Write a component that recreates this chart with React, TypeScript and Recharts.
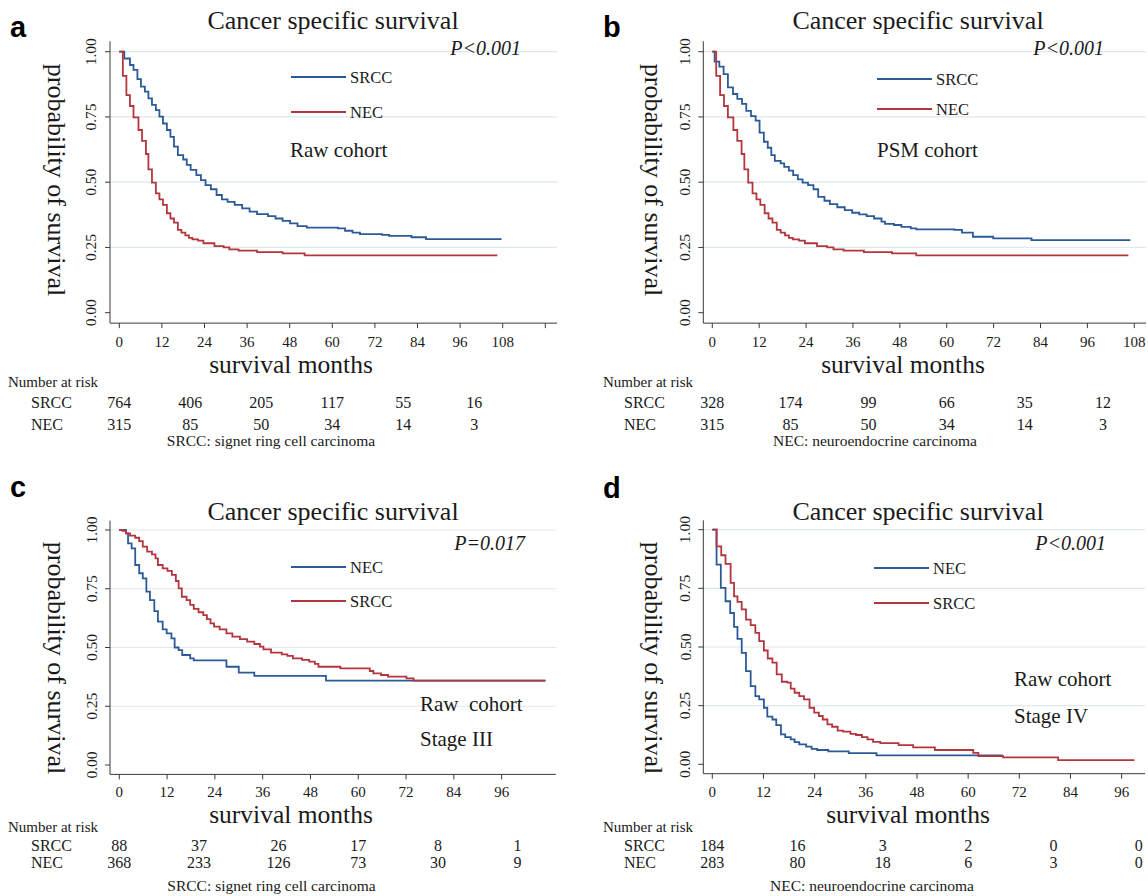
import React from "react";
import { LineChart, Line, XAxis, YAxis, ReferenceLine, Legend } from "recharts";

const BLUE = "#2c5a98";
const RED = "#b3363e";
const GRID = "#dfe8ec";
const AXIS = "#3a3a3a";
const TEXT = "#1a1a1a";
const SERIF = '"Liberation Serif", "Times New Roman", serif';
const SANS = '"Liberation Sans", Arial, sans-serif';

// ---------- survival curves (time in months, survival probability) ----------
const aSrccT = [0, 1.4, 3, 4, 5.1, 6.1, 7.2, 8.2, 9.2, 10.3, 11.3, 12.3, 13.4, 14.4, 15.4, 16.5, 18, 19, 20.1, 21.7, 23, 24.3, 25.8, 27.4, 28.9, 30.5, 32.5, 34.6, 36.7, 38.8, 41.9, 44, 46, 48.1, 50.2, 52.8, 61.6, 63.6, 65.7, 67.8, 74, 76, 82.3, 86.4, 107.7];
const aSrccS = [1, 0.974, 0.949, 0.93, 0.895, 0.866, 0.847, 0.821, 0.796, 0.776, 0.751, 0.725, 0.7, 0.674, 0.636, 0.604, 0.587, 0.566, 0.547, 0.527, 0.508, 0.489, 0.473, 0.451, 0.434, 0.425, 0.413, 0.4, 0.387, 0.378, 0.37, 0.361, 0.352, 0.342, 0.332, 0.326, 0.323, 0.314, 0.307, 0.301, 0.298, 0.294, 0.289, 0.282, 0.282];

const necT = [0, 1, 2, 3, 4, 5.4, 6.4, 7.5, 8.2, 9.2, 10.3, 11.3, 12.3, 13.4, 14.4, 15.4, 16.5, 17.5, 18.6, 19.6, 20.6, 22.2, 23.7, 26.8, 29.4, 31, 33.6, 38.8, 46, 52.2, 106.5];
const necS = [1, 0.907, 0.834, 0.792, 0.748, 0.7, 0.658, 0.608, 0.549, 0.498, 0.457, 0.434, 0.413, 0.381, 0.361, 0.345, 0.317, 0.307, 0.296, 0.287, 0.281, 0.276, 0.266, 0.255, 0.25, 0.243, 0.238, 0.232, 0.227, 0.22, 0.22];

const bSrccT = [0, 0.6, 1.8, 2.9, 4, 5.3, 6.4, 7.6, 8.7, 9.9, 11.1, 12.1, 13.2, 14.2, 15.1, 16, 17.5, 18.4, 19.6, 20.7, 21.9, 23.1, 24.5, 25.9, 27.1, 28.7, 30.1, 32, 33.9, 35.8, 37.6, 39.5, 41.4, 43.3, 44.2, 46.5, 48.4, 50.8, 52.2, 62, 63.9, 66.7, 71.9, 81.7, 107];
const bSrccS = [1, 0.962, 0.943, 0.914, 0.863, 0.838, 0.819, 0.8, 0.773, 0.753, 0.736, 0.69, 0.655, 0.632, 0.604, 0.582, 0.572, 0.559, 0.544, 0.527, 0.511, 0.498, 0.489, 0.473, 0.444, 0.429, 0.416, 0.404, 0.393, 0.383, 0.377, 0.37, 0.361, 0.349, 0.34, 0.336, 0.329, 0.323, 0.319, 0.317, 0.307, 0.291, 0.285, 0.278, 0.278];

const cNecT = [0, 1.7, 2.2, 3.1, 4, 5, 5.9, 6.8, 7.7, 8.8, 9.7, 10.9, 11.9, 13.1, 13.9, 14.9, 15.8, 17.8, 18.7, 26.9, 30, 33.9, 51.9, 107];
const cNecS = [1, 0.986, 0.943, 0.922, 0.851, 0.816, 0.794, 0.738, 0.702, 0.655, 0.61, 0.577, 0.56, 0.539, 0.5, 0.489, 0.468, 0.454, 0.445, 0.418, 0.393, 0.379, 0.359, 0.359];

const cSrccT = [0, 0.8, 1.7, 2.7, 4, 5, 5.9, 7, 8.2, 9.1, 9.7, 10.9, 12.1, 13.2, 14.2, 14.9, 15.7, 16.9, 17.8, 18.7, 19.9, 21.1, 22, 22.9, 23.8, 25.2, 26.9, 28.4, 30.3, 32.1, 33.9, 35.3, 36.2, 38.1, 40.8, 42.2, 43.6, 45.9, 47.7, 49.1, 50, 55.5, 62.9, 63.8, 65.7, 67.5, 72.1, 73.9, 107];
const cSrccS = [1, 0.996, 0.986, 0.976, 0.967, 0.953, 0.929, 0.908, 0.896, 0.879, 0.851, 0.837, 0.826, 0.809, 0.783, 0.752, 0.716, 0.702, 0.681, 0.664, 0.65, 0.638, 0.621, 0.603, 0.589, 0.577, 0.56, 0.546, 0.536, 0.525, 0.515, 0.504, 0.492, 0.478, 0.471, 0.464, 0.454, 0.447, 0.44, 0.43, 0.418, 0.411, 0.4, 0.39, 0.383, 0.376, 0.369, 0.359, 0.359];

const dNecT = [0, 1, 2, 3.1, 4.2, 5.1, 5.9, 6.9, 7.9, 9, 10.1, 11, 12.1, 12.9, 14.1, 15, 16.1, 17.1, 18.4, 19.3, 20.4, 22, 23.3, 24.6, 27.2, 32, 38.5, 68.1];
const dNecS = [1, 0.851, 0.752, 0.695, 0.645, 0.586, 0.535, 0.475, 0.397, 0.333, 0.291, 0.277, 0.241, 0.203, 0.191, 0.167, 0.128, 0.116, 0.106, 0.095, 0.085, 0.075, 0.066, 0.061, 0.055, 0.048, 0.038, 0.038];

const dSrccT = [0, 1, 2.1, 3.1, 4.3, 5.1, 5.9, 6.9, 7.9, 9, 10.1, 11, 12.1, 13, 14.1, 15.1, 16.3, 17.6, 18.4, 19.3, 20.4, 21.5, 22.8, 23.9, 25, 25.9, 27, 28.1, 29.4, 30.7, 32.4, 33.7, 35.1, 36.4, 37.7, 39.4, 43.7, 47.1, 52.2, 61.2, 62.4, 68.2, 81.1, 99];
const dSrccS = [1, 0.929, 0.891, 0.854, 0.773, 0.716, 0.692, 0.66, 0.617, 0.593, 0.56, 0.525, 0.485, 0.451, 0.433, 0.383, 0.352, 0.348, 0.323, 0.305, 0.291, 0.277, 0.241, 0.22, 0.206, 0.191, 0.17, 0.16, 0.144, 0.139, 0.13, 0.125, 0.116, 0.106, 0.096, 0.09, 0.082, 0.072, 0.061, 0.049, 0.035, 0.03, 0.018, 0.018];

// ---------- number at risk ----------
const riskTimes = [0, 20, 40, 60, 80, 100];
const aRiskSrcc = [764, 406, 205, 117, 55, 16];
const aRiskNec = [315, 85, 50, 34, 14, 3];
const bRiskSrcc = [328, 174, 99, 66, 35, 12];
const bRiskNec = [315, 85, 50, 34, 14, 3];
const cRiskSrcc = [88, 37, 26, 17, 8, 1];
const cRiskNec = [368, 233, 126, 73, 30, 9];
const dRiskSrcc = [184, 16, 3, 2, 0, 0];
const dRiskNec = [283, 80, 18, 6, 3, 0];

// ---------- ticks ----------
const yTicks = [0, 0.25, 0.5, 0.75, 1];
const yTickLabels = ["0.00", "0.25", "0.50", "0.75", "1.00"];
const gridValues = [0.25, 0.5, 0.75, 1];
const xTicksA = [0, 12, 24, 36, 48, 60, 72, 84, 96, 108, 120];
const xTickLabelsA = ["0", "12", "24", "36", "48", "60", "72", "84", "96", "108", ""];
const xTicksB = [0, 12, 24, 36, 48, 60, 72, 84, 96, 108];
const xTickLabelsB = ["0", "12", "24", "36", "48", "60", "72", "84", "96", "108"];
const xTicksCD = [0, 12, 24, 36, 48, 60, 72, 84, 96];
const xTickLabelsCD = ["0", "12", "24", "36", "48", "60", "72", "84", "96"];

const zip = (t: number[], s: number[]) => t.map((v, i) => ({ t: v, s: s[i] }));

// ---------- custom renderers ----------
const XTick = (props: any) => {
  const { x, payload, ticks, labels, baseline } = props;
  const idx = ticks.indexOf(payload.value);
  const lab = idx >= 0 ? labels[idx] : "";
  return (
    <text x={x} y={baseline} textAnchor="middle" fontFamily={SERIF} fontSize={15} fill={TEXT}>
      {lab}
    </text>
  );
};

const YTick = (props: any) => {
  const { y, payload, labelX } = props;
  const idx = yTicks.indexOf(payload.value);
  return (
    <text
      x={labelX}
      y={y}
      textAnchor="middle"
      dominantBaseline="central"
      transform={`rotate(-90 ${labelX} ${y})`}
      fontFamily={SERIF}
      fontSize={15.5}
      fill={TEXT}
    >
      {yTickLabels[idx]}
    </text>
  );
};

const RiskTick = (props: any) => {
  const { x, index, rows, ys } = props;
  return (
    <g>
      {rows.map((r: number[], i: number) => (
        <text key={i} x={x} y={ys[i]} textAnchor="middle" fontFamily={SERIF} fontSize={16} fill={TEXT}>
          {String(r[index])}
        </text>
      ))}
    </g>
  );
};

const XTitle = (props: any) => (
  <text x={props.cx} y={props.baseline} textAnchor="middle" fontFamily={SERIF} fontSize={25.5} fill={TEXT}>
    survival months
  </text>
);

const YTitle = (props: any) => (
  <text
    x={props.cx}
    y={props.cy}
    textAnchor="middle"
    dominantBaseline="central"
    transform={`rotate(90 ${props.cx} ${props.cy})`}
    fontFamily={SERIF}
    fontSize={26}
    fill={TEXT}
  >
    probability of survival
  </text>
);

const LegendBox = (props: any) => {
  const { payload, gap, order } = props;
  const items = [...(payload || [])].sort(
    (a: any, b: any) => order.indexOf(a.value) - order.indexOf(b.value)
  );
  return (
    <svg width={140} height={gap + 24} style={{ display: "block", overflow: "visible" }}>
      {items.map((e: any, i: number) => (
        <g key={e.value}>
          <line x1={2} x2={57} y1={12 + i * gap} y2={12 + i * gap} stroke={e.color} strokeWidth={1.8} />
          <text x={61} y={12 + i * gap} dominantBaseline="central" fontFamily={SERIF} fontSize={16.5} fill={TEXT}>
            {e.value}
          </text>
        </g>
      ))}
    </svg>
  );
};

type PanelCfg = any;

const panels: PanelCfg[] = [
  {
    left: 0, top: 0, letter: "a", letterX: 10, letterY: 36.5,
    titleX: 333, titleY: 28.5,
    yW: 110, mTop: 41.26, bottom: 124.86, mRight: 17, xDomain: [-2.62, 123.3],
    xTicks: xTicksA, xTickLabels: xTickLabelsA, xTickBase: 347, xTitleX: 291, xTitleY: 373,
    yTickX: 91, yTitleX: 56, yTitleY: 180,
    series: [
      { name: "SRCC", color: BLUE, data: zip(aSrccT, aSrccS) },
      { name: "NEC", color: RED, data: zip(necT, necS) },
    ],
    legendOrder: ["SRCC", "NEC"], legendX: 291, legendY: 77, legendGap: 35,
    pText: "P<0.001", pX: 521, pY: 55,
    notes: [{ text: "Raw cohort", x: 290, y: 157 }],
    narX: 8, narY: 387, rowX: 31, rowY: [408, 430], rows: [aRiskSrcc, aRiskNec],
    foot: "SRCC: signet ring cell carcinoma", footX: 271, footY: 446,
  },
  {
    left: 574, top: 0, letter: "b", letterX: 29, letterY: 36.5,
    titleX: 344, titleY: 28.5,
    yW: 129.3, mTop: 41.26, bottom: 124.86, mRight: 2, xDomain: [-2.3, 111],
    xTicks: xTicksB, xTickLabels: xTickLabelsB, xTickBase: 347, xTitleX: 329, xTitleY: 373,
    yTickX: 111, yTitleX: 79, yTitleY: 180,
    series: [
      { name: "SRCC", color: BLUE, data: zip(bSrccT, bSrccS) },
      { name: "NEC", color: RED, data: zip(necT, necS) },
    ],
    legendOrder: ["SRCC", "NEC"], legendX: 303, legendY: 79, legendGap: 30,
    pText: "P<0.001", pX: 530, pY: 55,
    notes: [{ text: "PSM cohort", x: 303, y: 157 }],
    narX: 29, narY: 387, rowX: 50, rowY: [408, 430], rows: [bRiskSrcc, bRiskNec],
    foot: "NEC: neuroendocrine carcinoma", footX: 301, footY: 446,
  },
  {
    left: 0, top: 448, letter: "c", letterX: 10, letterY: 49,
    titleX: 333, titleY: 72,
    yW: 110, mTop: 72.6, bottom: 121.6, mRight: 18.2, xDomain: [-2.33, 109.6],
    xTicks: xTicksCD, xTickLabels: xTickLabelsCD, xTickBase: 349, xTitleX: 291, xTitleY: 375,
    yTickX: 91, yTitleX: 56, yTitleY: 210,
    series: [
      { name: "NEC", color: BLUE, data: zip(cNecT, cNecS) },
      { name: "SRCC", color: RED, data: zip(cSrccT, cSrccS) },
    ],
    legendOrder: ["NEC", "SRCC"], legendX: 291, legendY: 119, legendGap: 34,
    pText: "P=0.017", pX: 525, pY: 102,
    notes: [
      { text: "Raw  cohort", x: 420, y: 263 },
      { text: "Stage III", x: 420, y: 298 },
    ],
    narX: 8, narY: 384, rowX: 31, rowY: [403, 420], rows: [cRiskSrcc, cRiskNec],
    foot: "SRCC: signet ring cell carcinoma", footX: 271.5, footY: 443,
  },
  {
    left: 574, top: 448, letter: "d", letterX: 29, letterY: 50,
    titleX: 344, titleY: 72,
    yW: 129.3, mTop: 72.3, bottom: 122.3, mRight: 2.9, xDomain: [-2.11, 101.5],
    xTicks: xTicksCD, xTickLabels: xTickLabelsCD, xTickBase: 349, xTitleX: 334, xTitleY: 375,
    yTickX: 111, yTitleX: 79, yTitleY: 210,
    series: [
      { name: "NEC", color: BLUE, data: zip(dNecT, dNecS) },
      { name: "SRCC", color: RED, data: zip(dSrccT, dSrccS) },
    ],
    legendOrder: ["NEC", "SRCC"], legendX: 300, legendY: 120, legendGap: 35,
    pText: "P<0.001", pX: 532, pY: 102,
    notes: [
      { text: "Raw cohort", x: 440, y: 238 },
      { text: "Stage IV", x: 440, y: 275 },
    ],
    narX: 29, narY: 384, rowX: 50, rowY: [403, 420], rows: [dRiskSrcc, dRiskNec],
    foot: "NEC: neuroendocrine carcinoma", footX: 298, footY: 443,
  },
];

const Panel = ({ p }: { p: PanelCfg }) => {
  const mainH = 50;
  return (
    <div style={{ position: "absolute", left: p.left, top: p.top, width: 574, height: 448 }}>
      <LineChart
        width={574}
        height={448}
        margin={{ top: p.mTop, right: p.mRight, bottom: 0, left: 0 }}
        style={{ overflow: "visible" }}
      >
        {gridValues.map((v) => (
          <ReferenceLine key={v} xAxisId="main" y={v} stroke={GRID} strokeWidth={1.2} />
        ))}
        <XAxis
          xAxisId="main"
          type="number"
          dataKey="t"
          domain={p.xDomain}
          ticks={p.xTicks}
          interval={0}
          allowDataOverflow
          height={mainH}
          tickSize={5}
          stroke={AXIS}
          tick={<XTick ticks={p.xTicks} labels={p.xTickLabels} baseline={p.xTickBase} />}
          label={<XTitle cx={p.xTitleX} baseline={p.xTitleY} />}
        />
        <XAxis
          xAxisId="risk"
          type="number"
          dataKey="t"
          domain={p.xDomain}
          ticks={riskTimes}
          interval={0}
          allowDataOverflow
          height={p.bottom - mainH}
          axisLine={false}
          tickLine={false}
          tickSize={0}
          tick={<RiskTick rows={p.rows} ys={p.rowY} />}
        />
        <YAxis
          type="number"
          domain={[-0.04, 1.04]}
          ticks={yTicks}
          interval={0}
          allowDataOverflow
          width={p.yW}
          tickSize={5}
          stroke={AXIS}
          tick={<YTick labelX={p.yTickX} />}
          label={<YTitle cx={p.yTitleX} cy={p.yTitleY} />}
        />
        {p.series.map((s: any) => (
          <Line
            key={s.name}
            xAxisId="main"
            data={s.data}
            dataKey="s"
            name={s.name}
            type="stepAfter"
            stroke={s.color}
            strokeWidth={1.8}
            dot={false}
            activeDot={false}
            isAnimationActive={false}
          />
        ))}
        <Legend
          layout="horizontal"
          verticalAlign="middle"
          align="center"
          content={<LegendBox gap={p.legendGap} order={p.legendOrder} />}
          wrapperStyle={{
            position: "absolute",
            left: p.legendX - 2,
            top: p.legendY - 12,
            width: 140,
            height: p.legendGap + 24,
            margin: 0,
            padding: 0,
          }}
        />
      </LineChart>
      <svg
        width={574}
        height={448}
        style={{ position: "absolute", left: 0, top: 0, overflow: "visible", pointerEvents: "none" }}
      >
        <text x={p.letterX} y={p.letterY} fontFamily={SANS} fontWeight="bold" fontSize={29} fill="#000">
          {p.letter}
        </text>
        <text x={p.titleX} y={p.titleY} textAnchor="middle" fontFamily={SERIF} fontSize={26} fill={TEXT}>
          Cancer specific survival
        </text>
        <text x={p.pX} y={p.pY} textAnchor="end" fontFamily={SERIF} fontStyle="italic" fontSize={20} fill={TEXT}>
          {p.pText}
        </text>
        {p.notes.map((n: any) => (
          <text key={n.text} x={n.x} y={n.y} fontFamily={SERIF} fontSize={21} fill={TEXT} style={{ whiteSpace: "pre" }}>
            {n.text}
          </text>
        ))}
        <text x={p.narX} y={p.narY} fontFamily={SERIF} fontSize={15} fill={TEXT}>
          Number at risk
        </text>
        <text x={p.rowX} y={p.rowY[0]} fontFamily={SERIF} fontSize={16} fill={TEXT}>
          SRCC
        </text>
        <text x={p.rowX} y={p.rowY[1]} fontFamily={SERIF} fontSize={16} fill={TEXT}>
          NEC
        </text>
        <text x={p.footX} y={p.footY} textAnchor="middle" fontFamily={SERIF} fontSize={15.5} fill={TEXT}>
          {p.foot}
        </text>
      </svg>
    </div>
  );
};

export default function App() {
  return (
    <div
      style={{
        position: "absolute",
        left: 0,
        top: 0,
        width: 1148,
        height: 896,
        background: "#fff",
        overflow: "hidden",
      }}
    >
      {panels.map((p, i) => (
        <Panel key={i} p={p} />
      ))}
    </div>
  );
}
